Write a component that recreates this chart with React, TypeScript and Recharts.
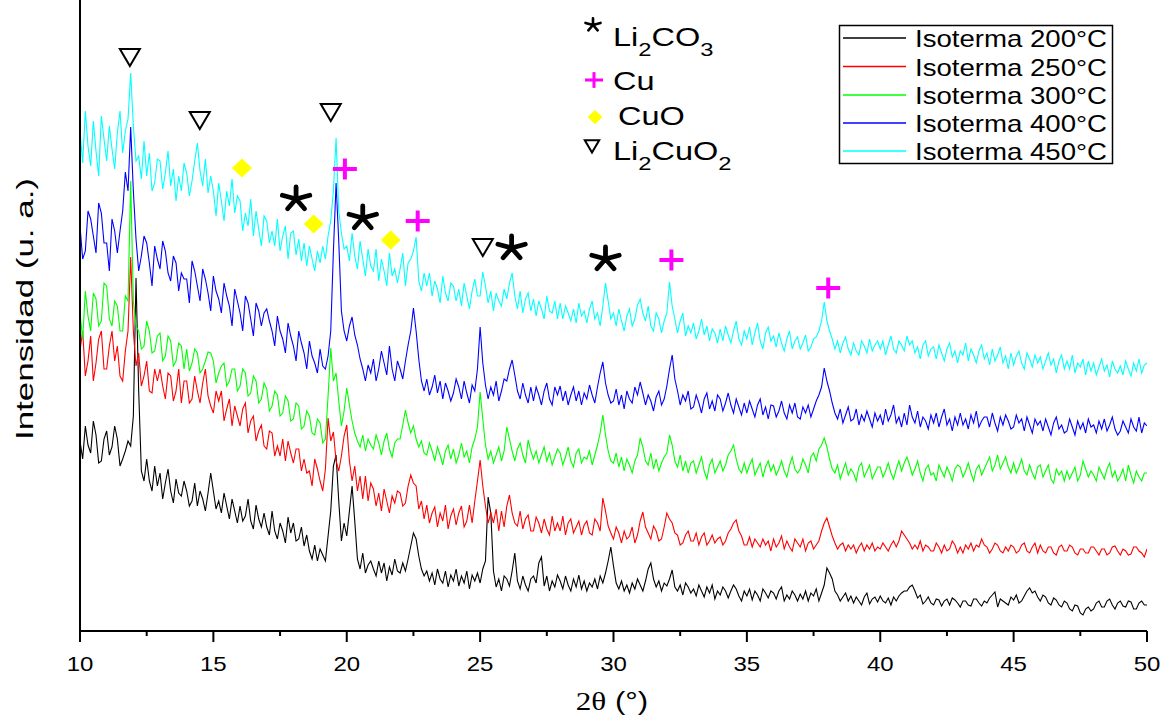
import React from 'react';
import { LineChart, Line, XAxis, YAxis, ReferenceDot } from 'recharts';

const FONT = '"Liberation Sans", Arial, Helvetica, sans-serif';

// 2θ sampling grid (10 → 50, every 0.1°)
const twoTheta: number[] = Array.from({ length: 401 }, (_, i) => Math.round((10 + i * 0.1) * 10) / 10);

// Intensities (a.u., stacked as drawn); one line per degree (x.0 … x.9)
const iso200 = [
  190, 172, 205, 186, 178, 210, 196, 168, 170, 192,
  200, 176, 184, 205, 192, 165, 172, 180, 190, 185,
  215, 353, 240, 160, 150, 172, 150, 140, 165, 145,
  158, 132, 148, 162, 140, 128, 152, 138, 135, 150,
  140, 125, 130, 148, 125, 140, 132, 120, 138, 158,
  140, 122, 130, 118, 138, 125, 112, 132, 120, 108,
  125, 110, 115, 132, 110, 102, 126, 112, 104, 118,
  104, 96, 120, 100, 92, 108, 100, 88, 114, 98,
  108, 90, 92, 104, 85, 96, 80, 72, 86, 70,
  82, 76, 70, 95, 120, 165, 176, 130, 90, 108,
  95, 120, 145, 110, 72, 62, 78, 58, 66, 70,
  62, 55, 70, 58, 68, 50, 64, 56, 72, 60,
  58, 68, 60, 72, 85, 98, 92, 75, 62, 55,
  60, 50, 58, 46, 62, 52, 48, 60, 44, 56,
  50, 62, 45, 55, 48, 60, 42, 56, 50, 58,
  48, 62, 70, 134, 118, 60, 44, 52, 40, 55,
  52, 45, 60, 78, 50, 42, 55, 46, 40, 52,
  55, 48, 68, 74, 45, 55, 40, 50, 44, 56,
  50, 42, 55, 46, 40, 52, 44, 56, 42, 50,
  40, 48, 44, 52, 42, 55, 48, 58, 70, 84,
  65, 48, 42, 50, 40, 46, 38, 48, 42, 52,
  46, 40, 50, 62, 68, 52, 44, 50, 40, 48,
  45, 52, 61, 44, 40, 46, 36, 48, 44, 38,
  42, 35, 46, 40, 34, 44, 38, 46, 32, 40,
  36, 44, 40, 33, 40, 46, 42, 35, 30, 40,
  35, 42, 31, 40, 36, 30, 42, 38, 33, 40,
  38, 32, 40, 44, 30, 36, 32, 40, 36, 30,
  37, 32, 40, 30, 38, 35, 42, 30, 38, 46,
  63, 58, 52, 40, 36, 30, 34, 38, 30, 35,
  28, 34, 30, 26, 34, 38, 27, 32, 34, 29,
  35, 30, 28, 33, 26, 34, 30, 35, 38, 40,
  40, 44, 46, 40, 33, 36, 27, 30, 34, 28,
  26, 32, 31, 25, 30, 32, 26, 33, 31, 28,
  24, 30, 30, 26, 25, 32, 32, 28, 25, 30,
  28, 33, 36, 39, 24, 32, 30, 28, 26, 34,
  31, 36, 28, 30, 35, 40, 43, 38, 40, 34,
  30, 36, 34, 28, 26, 33, 31, 26, 24, 30,
  28, 22, 20, 26, 25, 18, 16, 22, 24, 20,
  22, 28, 30, 24, 24, 30, 32, 26, 22, 28,
  30, 25, 24, 30, 29, 22, 22, 28, 30, 26,
  26,
];
const iso250 = [
  280, 300, 255, 270, 295, 250, 268, 292, 300, 262,
  262, 285, 300, 270, 285, 255, 250, 280, 300, 374,
  300, 265, 278, 245, 255, 270, 240, 238, 262, 250,
  262, 245, 232, 258, 255, 230, 240, 262, 228, 250,
  250, 228, 232, 255, 240, 228, 248, 262, 235, 225,
  218, 240, 230, 240, 210, 222, 232, 205, 225, 215,
  205, 222, 228, 198, 210, 215, 190, 200, 206, 185,
  182, 200, 198, 175, 185, 175, 192, 170, 190, 178,
  168, 182, 182, 160, 172, 158, 160, 145, 172, 162,
  150, 140, 162, 213, 190, 199, 170, 160, 175, 195,
  206, 170, 150, 165, 140, 155, 132, 155, 130, 148,
  142, 125, 138, 120, 142, 130, 118, 135, 128, 140,
  138, 125, 128, 145, 156, 148, 145, 122, 130, 112,
  126, 108, 118, 124, 104, 118, 110, 126, 102, 115,
  122, 106, 118, 125, 104, 110, 126, 108, 130, 150,
  171, 145, 125, 108, 118, 108, 122, 100, 120, 104,
  125, 136, 118, 108, 105, 120, 102, 112, 116, 100,
  100, 114, 108, 98, 112, 102, 96, 115, 100, 108,
  100, 115, 96, 108, 112, 98, 104, 110, 96, 106,
  110, 98, 96, 112, 108, 100, 133, 120, 105, 98,
  92, 104, 98, 88, 100, 92, 95, 104, 88, 96,
  110, 119, 104, 98, 92, 105, 100, 90, 92, 104,
  118, 112, 108, 98, 96, 86, 88, 96, 100, 90,
  90, 98, 86, 94, 98, 86, 90, 96, 88, 92,
  94, 86, 90, 98, 102, 108, 111, 100, 95, 86,
  86, 94, 84, 92, 88, 84, 92, 86, 90, 80,
  92, 84, 88, 95, 82, 90, 84, 80, 92, 88,
  84, 92, 80, 88, 90, 82, 86, 90, 100, 108,
  113, 104, 95, 88, 82, 86, 88, 80, 86, 82,
  86, 78, 84, 88, 80, 86, 82, 88, 80, 84,
  82, 88, 84, 80, 86, 90, 84, 90, 100, 96,
  92, 88, 82, 86, 82, 90, 80, 86, 84, 80,
  80, 88, 84, 78, 86, 80, 82, 90, 86, 78,
  84, 78, 86, 82, 88, 80, 86, 84, 92, 86,
  84, 78, 82, 88, 86, 80, 78, 84, 80, 86,
  84, 78, 80, 86, 88, 80, 78, 84, 88, 78,
  86, 80, 78, 84, 84, 78, 76, 84, 86, 80,
  80, 86, 84, 78, 76, 82, 82, 78, 78, 84,
  84, 80, 76, 82, 82, 76, 78, 84, 85, 80,
  76, 82, 80, 76, 77, 84, 84, 80, 78, 74,
  82,
];
const iso300 = [
  318, 292, 340, 315, 300, 338, 332, 305, 310, 348,
  345, 312, 305, 330, 325, 300, 300, 335, 330, 450,
  330, 305, 300, 282, 285, 310, 300, 278, 280, 295,
  298, 270, 275, 295, 290, 265, 270, 288, 285, 262,
  282, 260, 268, 282, 278, 258, 262, 270, 279, 278,
  270, 248, 258, 265, 268, 245, 250, 262, 262, 240,
  245, 262, 258, 235, 238, 255, 250, 228, 232, 248,
  242, 220, 225, 240, 236, 215, 218, 235, 230, 210,
  212, 228, 225, 202, 205, 220, 215, 198, 196, 212,
  208, 188, 192, 235, 283, 250, 258, 230, 205, 220,
  243, 226, 210, 198, 190, 184, 196, 180, 192, 186,
  182, 196, 188, 176, 190, 198, 182, 174, 188, 192,
  192, 206, 221, 208, 198, 205, 192, 184, 190, 178,
  176, 188, 180, 170, 184, 176, 166, 180, 186, 172,
  182, 168, 176, 188, 174, 180, 168, 184, 192, 204,
  239, 212, 186, 172, 180, 168, 176, 184, 170, 180,
  204, 192, 180, 170, 182, 188, 176, 168, 191, 180,
  172, 180, 168, 176, 184, 170, 178, 166, 174, 182,
  178, 166, 174, 184, 170, 164, 178, 182, 168, 174,
  172, 180, 166, 176, 186, 198, 216, 196, 180, 170,
  168, 178, 164, 174, 160, 172, 166, 158, 170, 176,
  193, 184, 170, 166, 178, 162, 172, 160, 168, 174,
  178, 196, 186, 170, 164, 176, 160, 170, 158, 168,
  170, 158, 166, 174, 160, 152, 166, 172, 158, 164,
  170, 160, 166, 176, 180, 186, 172, 162, 158, 168,
  158, 166, 172, 156, 162, 168, 154, 164, 170, 160,
  166, 156, 162, 170, 160, 154, 166, 174, 162, 158,
  162, 172, 166, 158, 174, 178, 170, 182, 186, 193,
  184, 172, 162, 158, 166, 152, 160, 168, 156, 162,
  158, 150, 164, 168, 154, 160, 166, 152, 158, 164,
  164, 154, 160, 168, 158, 152, 162, 170, 160, 168,
  174, 166, 156, 162, 170, 158, 150, 162, 166, 156,
  158, 150, 166, 160, 154, 164, 158, 150, 162, 166,
  164, 154, 160, 168, 158, 150, 162, 166, 156, 162,
  168, 174, 160, 166, 176, 162, 168, 174, 164, 158,
  168, 158, 164, 172, 160, 156, 166, 158, 152, 164,
  166, 154, 160, 166, 152, 148, 162, 156, 160, 150,
  160, 152, 158, 164, 150, 156, 170, 162, 154, 160,
  156, 150, 164, 158, 152, 162, 168, 154, 160, 150,
  155, 162, 150, 166, 156, 148, 160, 154, 150, 158,
  158,
];
const iso400 = [
  405, 372, 380, 420, 412, 395, 378, 428, 418, 388,
  388, 360, 412, 400, 378, 400, 420, 459, 440, 504,
  440, 392, 360, 375, 395, 388, 368, 345, 385, 372,
  362, 390, 380, 358, 350, 375, 368, 340, 358, 352,
  352, 328, 370, 360, 345, 330, 362, 352, 338, 320,
  355, 340, 332, 318, 348, 335, 325, 305, 342, 330,
  318, 300, 335, 328, 312, 295, 328, 320, 305, 318,
  322, 310, 300, 285, 315, 300, 292, 278, 308, 295,
  285, 270, 300, 288, 278, 262, 290, 275, 268, 258,
  282, 265, 262, 275, 300, 380, 448, 390, 320, 300,
  290, 305, 314, 296, 286, 272, 262, 250, 266, 258,
  272, 250, 262, 280, 268, 256, 285, 262, 250, 270,
  262, 252, 270, 286, 300, 323, 300, 272, 250, 240,
  252, 236, 244, 256, 238, 250, 232, 248, 240, 230,
  238, 252, 244, 232, 250, 238, 228, 246, 240, 262,
  304, 268, 246, 232, 244, 236, 250, 230, 240, 252,
  250, 262, 271, 256, 240, 232, 248, 236, 228, 244,
  230, 244, 236, 226, 240, 248, 232, 226, 244, 236,
  245, 230, 240, 226, 236, 244, 230, 240, 226, 238,
  232, 246, 236, 228, 244, 258, 269, 248, 236, 228,
  230, 242, 226, 236, 222, 240, 232, 228, 244, 236,
  249, 238, 226, 236, 230, 220, 234, 240, 226, 232,
  245, 262, 276, 252, 240, 226, 236, 230, 240, 222,
  224, 236, 228, 218, 232, 238, 222, 230, 220, 236,
  232, 220, 228, 238, 226, 218, 232, 224, 216, 228,
  218, 230, 222, 214, 226, 232, 216, 224, 212, 226,
  225, 214, 220, 230, 218, 212, 226, 218, 228, 214,
  212, 224, 218, 226, 214, 222, 230, 236, 244, 263,
  250, 240, 228, 218, 212, 222, 208, 216, 224, 210,
  212, 222, 206, 216, 210, 220, 212, 204, 218, 210,
  216, 206, 222, 210, 216, 226, 208, 214, 204, 218,
  206, 226, 214, 208, 220, 204, 214, 210, 202, 216,
  208, 218, 204, 214, 222, 206, 212, 200, 214, 206,
  218, 206, 212, 202, 216, 208, 220, 204, 210, 214,
  214, 204, 218, 208, 200, 214, 206, 216, 210, 202,
  204, 216, 208, 212, 200, 214, 206, 198, 212, 206,
  210, 200, 212, 204, 196, 208, 214, 202, 206, 198,
  200, 212, 204, 196, 210, 202, 208, 198, 212, 204,
  206, 198, 210, 202, 212, 200, 206, 214, 202, 196,
  200, 210, 204, 198, 212, 204, 200, 214, 198, 208,
  205,
];
const iso450 = [
  500, 468, 520, 485, 465, 510, 480, 455, 515, 492,
  470, 505, 482, 462, 498, 520, 478, 500, 512, 558,
  505, 470, 475, 452, 490, 455, 478, 440, 448, 472,
  470, 442, 458, 480, 445, 462, 430, 455, 440, 468,
  458, 435, 450, 470, 488, 460, 445, 472, 438, 455,
  440, 415, 448, 430, 410, 440, 425, 452, 418, 435,
  430, 400, 418, 405, 432, 395, 420, 402, 385, 415,
  410, 388, 400, 385, 412, 380, 395, 405, 372, 398,
  400, 376, 392, 370, 388, 365, 385, 372, 360, 380,
  368, 385, 372, 395, 410, 440, 493, 420, 398, 382,
  385, 370, 398, 375, 362, 390, 372, 355, 382, 365,
  360, 382, 350, 372, 360, 345, 378, 355, 362, 348,
  362, 378, 345, 368, 372, 380, 394, 350, 340, 358,
  345, 358, 335, 350, 342, 328, 355, 338, 330, 348,
  345, 330, 342, 325, 348, 335, 322, 340, 352, 335,
  335, 359, 345, 328, 340, 320, 338, 330, 325, 342,
  332, 348, 358, 335, 322, 340, 318, 332, 338, 320,
  332, 315, 330, 322, 312, 335, 320, 318, 330, 312,
  328, 312, 325, 318, 310, 322, 308, 328, 315, 320,
  308, 322, 330, 312, 318, 305, 325, 348, 330, 312,
  318, 305, 322, 310, 300, 315, 322, 305, 312, 326,
  332, 318, 310, 325, 305, 300, 318, 312, 298, 310,
  318, 349, 325, 312, 298, 310, 318, 295, 305, 298,
  308, 292, 300, 312, 296, 305, 290, 302, 298, 288,
  302, 290, 305, 296, 288, 300, 310, 292, 286, 300,
  292, 304, 286, 298, 308, 290, 282, 298, 304, 290,
  295, 284, 298, 288, 280, 292, 300, 282, 290, 294,
  282, 288, 296, 280, 284, 292, 294, 300, 310, 329,
  310, 300, 292, 282, 290, 278, 288, 294, 282, 276,
  288, 280, 276, 290, 285, 278, 292, 280, 286, 290,
  282, 290, 276, 286, 295, 282, 278, 290, 286, 280,
  295, 286, 290, 278, 284, 272, 286, 290, 275, 282,
  284, 272, 286, 278, 270, 282, 288, 274, 280, 268,
  280, 276, 288, 270, 282, 276, 268, 280, 286, 272,
  278, 266, 282, 270, 276, 284, 268, 275, 262, 278,
  266, 275, 280, 268, 262, 278, 272, 264, 276, 268,
  274, 262, 270, 278, 266, 272, 258, 270, 276, 262,
  270, 262, 276, 258, 268, 264, 272, 256, 270, 260,
  268, 256, 264, 272, 260, 266, 254, 270, 262, 258,
  265, 256, 270, 262, 255, 268, 260, 272, 258, 266,
  268,
];

const seriesKeys = ['s200', 's250', 's300', 's400', 's450'];
const seriesNames = ['Isoterma 200°C', 'Isoterma 250°C', 'Isoterma 300°C', 'Isoterma 400°C', 'Isoterma 450°C'];
const seriesColors = ['#000000', '#ff0000', '#00ff00', '#0000ff', '#00ffff'];

const xTicks = [10, 12.5, 15, 17.5, 20, 22.5, 25, 27.5, 30, 32.5, 35, 37.5, 40, 42.5, 45, 47.5, 50];

// Phase markers (2θ, intensity)
const li2cuo2Marks = [
  { t: 11.87, v: 574 },
  { t: 14.49, v: 511 },
  { t: 19.4, v: 519 },
  { t: 25.1, v: 384 },
];
const li2co3Marks = [
  { t: 18.1, v: 432 },
  { t: 20.6, v: 413 },
  { t: 26.18, v: 383 },
  { t: 29.7, v: 372 },
];
const cuMarks = [
  { t: 19.93, v: 462 },
  { t: 22.66, v: 410 },
  { t: 32.17, v: 371 },
  { t: 38.05, v: 343 },
];
const cuoMarks = [
  { t: 16.07, v: 463 },
  { t: 18.76, v: 407 },
  { t: 21.65, v: 391 },
];

const data = twoTheta.map((t, i) => ({
  t,
  s200: iso200[i],
  s250: iso250[i],
  s300: iso300[i],
  s400: iso400[i],
  s450: iso450[i],
}));

const Tri = ({ cx, cy, s = 1 }: any) => (
  <polygon
    points={`${cx - 10 * s},${cy - 8 * s} ${cx + 10 * s},${cy - 8 * s} ${cx},${cy + 9 * s}`}
    fill="none"
    stroke="#000"
    strokeWidth={2}
  />
);
const Plus = ({ cx, cy, s = 1 }: any) => (
  <g stroke="#ff00ff" strokeWidth={4 * s}>
    <line x1={cx - 12 * s} x2={cx + 12 * s} y1={cy} y2={cy} />
    <line x1={cx} x2={cx} y1={cy - 10.5 * s} y2={cy + 10.5 * s} />
  </g>
);
const Diamond = ({ cx, cy, s = 1 }: any) => (
  <polygon
    points={`${cx},${cy - 9.5 * s} ${cx + 10 * s},${cy} ${cx},${cy + 9.5 * s} ${cx - 10 * s},${cy}`}
    fill="#ffff00"
  />
);
const Star = ({ cx, cy, s = 1 }: any) => {
  const L = 12 * s;
  const angles = [-90, -18, 54, 126, 198];
  const d = angles
    .map((a) => {
      const r = (a * Math.PI) / 180;
      return `M${cx},${cy} L${cx + 1.2 * L * Math.cos(r)},${cy + L * Math.sin(r)}`;
    })
    .join(' ');
  return <path d={d} stroke="#000" strokeWidth={4.8 * s} fill="none" strokeLinecap="round" />;
};

const XTick = (props: any) => {
  const { x, y, payload } = props;
  const v = payload.value;
  const major = Math.abs(v % 5) < 1e-6;
  return (
    <g>
      <line x1={x} x2={x} y1={y} y2={y + (major ? 11 : 5)} stroke="#000" strokeWidth={2} />
      {major && (
        <text
          transform={`translate(${x},${y + 40}) scale(1.2,1)`}
          textAnchor="middle"
          fontSize={20}
          fontFamily={FONT}
          fill="#000"
        >
          {v}
        </text>
      )}
    </g>
  );
};

const legendRowsY = [38, 66.5, 95, 123, 151];

export default function App() {
  return (
    <div style={{ position: 'absolute', left: 0, top: 0, width: 1164, height: 716, background: '#fff' }}>
      <LineChart width={1164} height={716} data={data} margin={{ top: 0, right: 17, bottom: 0, left: 0 }}>
        <XAxis
          dataKey="t"
          type="number"
          domain={[10, 50]}
          ticks={xTicks}
          interval={0}
          tick={XTick}
          tickLine={false}
          tickSize={0}
          tickMargin={0}
          height={85}
          axisLine={{ stroke: '#000', strokeWidth: 2 }}
          allowDataOverflow
        />
        <YAxis
          type="number"
          domain={[0, 631]}
          width={80}
          tick={false}
          tickLine={false}
          axisLine={{ stroke: '#000', strokeWidth: 2 }}
          allowDataOverflow
        />
        {seriesKeys.map((k, i) => (
          <Line
            key={k}
            type="linear"
            dataKey={k}
            name={seriesNames[i]}
            stroke={seriesColors[i]}
            strokeWidth={1.1}
            dot={false}
            activeDot={false}
            isAnimationActive={false}
          />
        ))}
        {li2cuo2Marks.map((m, i) => (
          <ReferenceDot key={'a' + i} x={m.t} y={m.v} r={1} ifOverflow="visible" shape={(p: any) => <Tri cx={p.cx} cy={p.cy} />} />
        ))}
        {li2co3Marks.map((m, i) => (
          <ReferenceDot key={'b' + i} x={m.t} y={m.v} r={1} ifOverflow="visible" shape={(p: any) => <Star cx={p.cx} cy={p.cy} />} />
        ))}
        {cuMarks.map((m, i) => (
          <ReferenceDot key={'c' + i} x={m.t} y={m.v} r={1} ifOverflow="visible" shape={(p: any) => <Plus cx={p.cx} cy={p.cy} />} />
        ))}
        {cuoMarks.map((m, i) => (
          <ReferenceDot key={'d' + i} x={m.t} y={m.v} r={1} ifOverflow="visible" shape={(p: any) => <Diamond cx={p.cx} cy={p.cy} />} />
        ))}
      </LineChart>
      <svg
        width={1164}
        height={716}
        style={{ position: 'absolute', left: 0, top: 0, pointerEvents: 'none' }}
        fontFamily={FONT}
      >
        {/* Y axis title */}
        <text
          transform="translate(33,309) rotate(-90)"
          textAnchor="middle"
          fontSize={24}
          textLength={262}
          lengthAdjust="spacingAndGlyphs"
          fill="#000"
        >
          Intensidad (u. a.)
        </text>
        {/* X axis title */}
        <text transform="translate(612,710) scale(1.2,1)" textAnchor="middle" fontSize={26} fill="#000">
          <tspan fontFamily='"Liberation Serif", "Times New Roman", serif'>2θ</tspan> (°)
        </text>

        {/* Series legend */}
        <rect x={839.5} y={25.5} width={273} height={138} fill="#fff" stroke="#000" strokeWidth={1.5} />
        {seriesNames.map((n, i) => (
          <g key={n}>
            <line x1={843} x2={906} y1={legendRowsY[i]} y2={legendRowsY[i]} stroke={seriesColors[i]} strokeWidth={1.5} />
            <text transform={`translate(915,${legendRowsY[i] + 9}) scale(1.2,1)`} fontSize={23} fill="#000">
              {n}
            </text>
          </g>
        ))}

        {/* Phase legend */}
        <Star cx={593} cy={25} s={0.55} />
        <text transform="translate(613,46) scale(1.25,1)" fontSize={26} fill="#000">
          Li<tspan fontSize={19} dy={10}>2</tspan>
          <tspan dy={-10}>CO</tspan>
          <tspan fontSize={19} dy={10}>3</tspan>
        </text>
        <Plus cx={594} cy={80} s={0.75} />
        <text transform="translate(613,90) scale(1.25,1)" fontSize={26} fill="#000">
          Cu
        </text>
        <Diamond cx={595} cy={117} s={0.75} />
        <text transform="translate(618,125) scale(1.25,1)" fontSize={26} fill="#000">
          CuO
        </text>
        <Tri cx={592} cy={146} s={0.72} />
        <text transform="translate(613,160) scale(1.25,1)" fontSize={26} fill="#000">
          Li<tspan fontSize={19} dy={10}>2</tspan>
          <tspan dy={-10}>CuO</tspan>
          <tspan fontSize={19} dy={10}>2</tspan>
        </text>
      </svg>
    </div>
  );
}
